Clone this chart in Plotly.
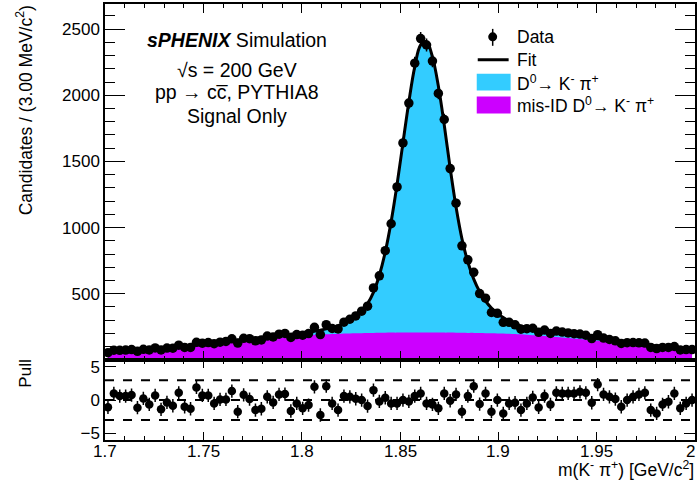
import numpy as np
import plotly.graph_objects as go

# Binning of the invariant-mass histogram (3 MeV bins from 1.7 to 2.0 GeV/c^2)
m_lo, m_hi, bin_w = 1.7, 2.0, 0.003
n_bins = 100
centers = [round(m_lo + bin_w * (i + 0.5), 4) for i in range(n_bins)]

# Candidates per bin
counts = [
    54, 73, 72, 74, 78, 65, 80, 75, 90, 75,
    89, 88, 111, 94, 94, 133, 126, 131, 122, 134,
    139, 159, 127, 163, 160, 144, 151, 180, 173, 194,
    200, 170, 191, 186, 199, 246, 191, 266, 237, 234,
    285, 307, 332, 368, 406, 544, 635, 825, 1029, 1307,
    1640, 1941, 2243, 2429, 2380, 2259, 2014, 1817, 1446, 1184,
    862, 756, 662, 501, 466, 358, 352, 284, 284, 265,
    232, 236, 239, 208, 225, 200, 218, 210, 204, 198,
    195, 186, 161, 190, 165, 154, 144, 124, 130, 131,
    129, 127, 94, 85, 94, 94, 101, 75, 78, 78,
]

# Total fit model evaluated at the bin centres
fit_total = [
    63, 65, 67, 69, 72, 75, 78, 81, 84, 88,
    92, 96, 100, 104, 108, 113, 118, 123, 128, 133,
    138, 143, 148, 153, 158, 163, 168, 173, 178, 183,
    188, 193, 198, 204, 210, 217, 225, 234, 245, 258,
    275, 298, 328, 368, 425, 510, 640, 815, 1045, 1325,
    1640, 1950, 2215, 2380, 2405, 2290, 2070, 1775, 1450, 1155,
    915, 740, 610, 515, 445, 392, 352, 320, 293, 272,
    256, 244, 233, 224, 216, 209, 202, 196, 190, 184,
    178, 172, 166, 160, 154, 148, 142, 136, 130, 125,
    120, 115, 110, 105, 100, 96, 91, 87, 82, 78,
]

# mis-ID D0 -> K- pi+ component of the fit
misid = [
    60, 63, 66, 69, 72, 75, 78, 81, 84, 88,
    91, 95, 98, 102, 105, 109, 112, 116, 120, 125,
    129, 133, 137, 141, 146, 150, 154, 158, 163, 167,
    171, 175, 179, 183, 186, 189, 191, 193, 195, 197,
    199, 200, 201, 202, 203, 204, 205, 205, 206, 206,
    207, 207, 207, 207, 207, 207, 207, 206, 206, 205,
    205, 204, 204, 203, 202, 201, 200, 199, 197, 195,
    193, 190, 187, 185, 181, 177, 173, 169, 165, 161,
    157, 153, 148, 144, 139, 135, 130, 126, 121, 117,
    112, 107, 103, 98, 93, 88, 83, 78, 73, 67,
]

# (data - fit) / error per bin
pulls = [
    -1.09, 1.0, 0.6, 0.6, 0.75, -1.14, 0.25, -0.65, 0.7, -1.39,
    -0.35, -0.85, 1.1, -1.0, -1.3, 1.9, 0.7, 0.7, -0.5, 0.1,
    0.1, 1.35, -1.74, 0.8, 0.15, -1.5, -1.3, 0.5, -0.35, 0.85,
    0.9, -1.64, -0.5, -1.24, -0.75, 2.0, -2.24, 2.1, -0.5, -1.5,
    0.6, 0.5, 0.2, 0.0, -0.9, 1.5, -0.2, 0.35, -0.5, -0.5,
    0.0, -0.2, 0.6, 1.0, -0.5, -0.65, -1.24, 1.0, -0.1, 0.85,
    -1.74, 0.6, 2.1, -0.6, 1.0, -1.74, 0.0, -2.0, -0.5, -0.4,
    -1.5, -0.5, 0.4, -1.1, 0.6, -0.65, 1.1, 1.0, 1.0, 1.0,
    1.24, 1.1, -0.4, 2.34, 0.85, 0.5, 0.15, -1.0, 0.0, 0.5,
    0.85, 1.1, -1.5, -2.0, -0.65, -0.25, 1.0, -1.24, -0.5, 0.0,
]

x_tick_vals = [1.7, 1.75, 1.8, 1.85, 1.9, 1.95, 2.0]
x_tick_text = ["1.7", "1.75", "1.8", "1.85", "1.9", "1.95", "2"]
y_tick_vals = [500, 1000, 1500, 2000, 2500]
pull_tick_vals = [-5, 0, 5]
pull_tick_text = ["\u22125", "0", "5"]
pull_bands = [-3, 0, 3]

CYAN = "#33CCFF"
MAGENTA = "#CC00FF"
FONT = "Liberation Sans, Arial, Helvetica, sans-serif"

W, H = 699, 484
L, R, T, B = 105, 697, 2, 440  # plot area in pixels
SPLIT = 359.5                   # boundary between the two pads


def fx(px):
    return (px - L) / (R - L)


def fy(py):
    return (B - py) / (B - T)


errors = np.sqrt(np.array(counts, dtype=float))

fig = go.Figure()

# Total fit (cyan = signal part on top of the mis-ID component)
fig.add_trace(go.Scatter(
    x=centers, y=fit_total, mode="lines", fill="tozeroy", fillcolor=CYAN,
    line=dict(width=0, shape="spline", color=CYAN), xaxis="x", yaxis="y",
    hoverinfo="skip"))
fig.add_trace(go.Scatter(
    x=centers, y=misid, mode="lines", fill="tozeroy", fillcolor=MAGENTA,
    line=dict(width=0, shape="spline", color=MAGENTA), xaxis="x", yaxis="y",
    hoverinfo="skip"))
fig.add_trace(go.Scatter(
    x=centers, y=fit_total, mode="lines",
    line=dict(width=3, shape="spline", color="black"), xaxis="x", yaxis="y"))
fig.add_trace(go.Scatter(
    x=centers, y=counts, mode="markers",
    marker=dict(symbol="circle", size=9.5, color="black"),
    error_y=dict(type="data", array=errors, thickness=1.5, width=0, color="black"),
    xaxis="x", yaxis="y", cliponaxis=False))

# Pull pad
fig.add_trace(go.Scatter(
    x=centers, y=pulls, mode="markers",
    marker=dict(symbol="circle", size=8.5, color="black"),
    error_y=dict(type="constant", value=1.0, thickness=1.5, width=0, color="black"),
    xaxis="x2", yaxis="y2", cliponaxis=False))

for yv in pull_bands:
    fig.add_shape(type="line", xref="x2", yref="y2", x0=m_lo, x1=m_hi, y0=yv, y1=yv,
                  line=dict(color="black", width=2, dash="dash"), layer="below")

axis_common = dict(
    showgrid=False, zeroline=False, showline=True, linecolor="black", linewidth=1.5,
    ticks="inside", tickcolor="black", tickwidth=1, mirror="allticks",
    tickfont=dict(family=FONT, size=17, color="black"),
)

dom_split = fy(SPLIT)

fig.update_layout(
    width=W, height=H,
    margin=dict(l=L, r=W - R, t=T, b=H - B),
    paper_bgcolor="white", plot_bgcolor="white",
    showlegend=False,
    font=dict(family=FONT, color="black"),
    xaxis=dict(domain=[0, 1], anchor="y", range=[m_lo, m_hi], showticklabels=False,
               tickvals=x_tick_vals, ticklen=9,
               minor=dict(dtick=0.01, tick0=1.7, ticklen=4, ticks="inside", tickcolor="black"),
               **axis_common),
    yaxis=dict(domain=[dom_split, 1], anchor="x", range=[0, 2690],
               tickvals=y_tick_vals, ticklen=20,
               minor=dict(dtick=100, tick0=0, ticklen=10, ticks="inside", tickcolor="black"),
               **axis_common),
    xaxis2=dict(domain=[0, 1], anchor="y2", range=[m_lo, m_hi], showticklabels=False,
                tickvals=x_tick_vals, ticklen=8,
                minor=dict(dtick=0.01, tick0=1.7, ticklen=4, ticks="inside", tickcolor="black"),
                **axis_common),
    yaxis2=dict(domain=[0, dom_split], anchor="x2", range=[-6.0, 6.05],
                tickvals=pull_tick_vals, ticktext=pull_tick_text, ticklen=11,
                **axis_common),
)

ann = []
# Mass-axis tick labels, set close under the frame
for v, t in zip(x_tick_vals, x_tick_text):
    ann.append(dict(text=t, x=v, y=fy(452), xref="x2", yref="paper",
                    xanchor="center", yanchor="middle", showarrow=False,
                    xshift=-5 if v == m_hi else 0,
                    font=dict(family=FONT, size=17, color="black")))

# Axis titles
ann.append(dict(text="Candidates / (3.00 MeV/c<sup>2</sup>)", textangle=-90,
                x=fx(24), y=fy(1), xref="paper", yref="paper",
                xanchor="center", yanchor="top", showarrow=False,
                font=dict(family=FONT, size=17.5, color="black")))
ann.append(dict(text="Pull", textangle=-90,
                x=fx(25), y=fy(357), xref="paper", yref="paper",
                xanchor="center", yanchor="top", showarrow=False,
                font=dict(family=FONT, size=17, color="black")))
ann.append(dict(text="m(K<sup>-</sup> \u03c0<sup>+</sup>) [GeV/c<sup>2</sup>]",
                x=fx(698), y=fy(469), xref="paper", yref="paper",
                xanchor="right", yanchor="middle", showarrow=False,
                font=dict(family=FONT, size=17.5, color="black")))

# Label block
label_lines = [
    ("<b><i>sPHENIX</i></b> Simulation", 38),
    ("\u221as = 200 GeV", 68),
    ("pp \u2192 cc\u0305, PYTHIA8", 90),
    ("Signal Only", 115),
]
for txt, py in label_lines:
    ann.append(dict(text=txt, x=fx(237), y=fy(py), xref="paper", yref="paper",
                    xanchor="center", yanchor="middle", showarrow=False,
                    font=dict(family=FONT, size=19.5, color="black")))

# Legend
legend_rows = [
    ("Data", 35),
    ("Fit", 58),
    ("D<sup>0</sup>\u2192 K<sup>-</sup> \u03c0<sup>+</sup>", 81),
    ("mis-ID D<sup>0</sup>\u2192 K<sup>-</sup> \u03c0<sup>+</sup>", 103),
]
for txt, py in legend_rows:
    ann.append(dict(text=txt, x=fx(516), y=fy(py), xref="paper", yref="paper",
                    xanchor="left", yanchor="middle", showarrow=False,
                    font=dict(family=FONT, size=17.5, color="black")))
fig.update_layout(annotations=ann)

# Legend glyphs
fig.add_shape(type="line", xref="paper", yref="paper", x0=fx(494), x1=fx(494),
              y0=fy(27), y1=fy(44), line=dict(color="black", width=1.5))
fig.add_shape(type="circle", xref="paper", yref="paper", x0=fx(489.5), x1=fx(498.5),
              y0=fy(39.5), y1=fy(30.5), line=dict(color="black", width=0), fillcolor="black")
fig.add_shape(type="line", xref="paper", yref="paper", x0=fx(479), x1=fx(510),
              y0=fy(58), y1=fy(58), line=dict(color="black", width=3))
fig.add_shape(type="rect", xref="paper", yref="paper", x0=fx(478), x1=fx(512),
              y0=fy(89), y1=fy(72), line=dict(width=0), fillcolor=CYAN)
fig.add_shape(type="rect", xref="paper", yref="paper", x0=fx(478), x1=fx(512),
              y0=fy(112), y1=fy(95), line=dict(width=0), fillcolor=MAGENTA)

fig.write_html("out.html")
